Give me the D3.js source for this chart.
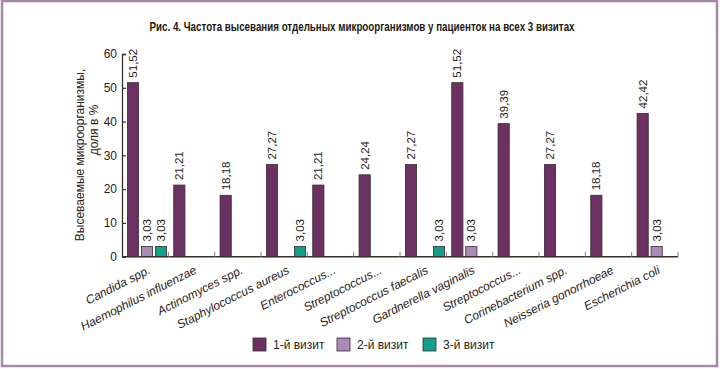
<!DOCTYPE html>
<html><head><meta charset="utf-8">
<script src="https://cdn.jsdelivr.net/npm/d3@7"></script>
<style>
html,body{margin:0;padding:0;background:#fff;}
svg{display:block;font-family:"Liberation Sans",Arial,sans-serif;}
</style></head>
<body><svg id="c" width="720" height="369"></svg>
<script>
const categories = ["Candida spp.","Haemophilus influenzae","Actinomyces spp.","Staphylococcus aureus","Enterococcus...","Streptococcus...","Streptococcus faecalis","Gardnerella vaginalis","Streptococcus...","Corinebacterium spp.","Neisseria gonorrhoeae","Escherichia coli"];
const seriesNames = ["1-й визит","2-й визит","3-й визит"];
const visit1 = [51.52,21.21,18.18,27.27,21.21,24.24,27.27,51.52,39.39,27.27,18.18,42.42];
const visit2 = [3.03,null,null,null,null,null,null,3.03,null,null,null,3.03];
const visit3 = [3.03,null,null,3.03,null,null,3.03,null,null,null,null,null];
const yTicks = [0,10,20,30,40,50,60];
const colors = ["#6b3163","#a98bb8","#10a08d"];
const title = "Рис. 4. Частота высевания отдельных микроорганизмов у пациенток на всех 3 визитах";

const svg = d3.select("#c");
const textColor = "#2a2119";
// frame
svg.append("rect").attr("x",2).attr("y",1).attr("width",715).attr("height",365)
  .attr("fill","none").attr("stroke","#a887a6").attr("stroke-width",2.5);

svg.append("text").attr("x",362).attr("y",31).attr("text-anchor","middle")
  .attr("font-weight","bold").attr("font-size",12).attr("fill","#1e1712")
  .attr("textLength",425).attr("lengthAdjust","spacingAndGlyphs").text(title);

const x0 = d3.scaleBand().domain(d3.range(categories.length)).range([122,678]).padding(0);
const x1 = d3.scaleBand().domain([0,1,2]).range([4,46]).paddingInner(0.2).paddingOuter(0.1);
const y = d3.scaleLinear().domain([0,60]).range([256.7,54]);

const series = [visit1,visit2,visit3];
const g = svg.append("g");
series.forEach((arr,si)=>{
  arr.forEach((v,i)=>{
    if(v==null) return;
    const bx = x0(i)+x1(si), bw = x1.bandwidth();
    g.append("rect").attr("x",bx).attr("y",y(v)).attr("width",bw).attr("height",y(0)-y(v))
      .attr("fill",colors[si]).attr("stroke","#3b2a33").attr("stroke-width",0.8);
    g.append("text").attr("transform",`translate(${bx+bw/2},${y(v)-5}) rotate(-90)`)
      .attr("dy","0.35em").attr("font-size",11.5).attr("fill",textColor)
      .text(String(v.toFixed(2)).replace(".",","));
  });
});

// y axis
const yAxis = d3.axisLeft(y).tickValues(yTicks).tickSize(-4).tickSizeOuter(-4).tickPadding(5);
const ya = svg.append("g").attr("transform","translate(122,0)").call(yAxis);
ya.select(".domain").attr("stroke","#3a3028").attr("stroke-width",1.3);
ya.selectAll(".tick line").attr("stroke","#3a3028").attr("stroke-width",1.2);
ya.selectAll(".tick text").attr("font-size",12).attr("fill",textColor).attr("font-family","Liberation Sans, Arial, sans-serif");

// x axis line
svg.append("line").attr("x1",122).attr("x2",678).attr("y1",y(0)).attr("y2",y(0))
  .attr("stroke","#3a3028").attr("stroke-width",1.5);
// x ticks at band boundaries
const bounds = d3.range(1,categories.length+1).map(i=> i<categories.length ? x0(i) : 678);
svg.selectAll(".xt").data(bounds).enter().append("line")
  .attr("x1",d=>d).attr("x2",d=>d).attr("y1",y(0)).attr("y2",y(0)-5)
  .attr("stroke","#8a7f78").attr("stroke-width",1);

// x labels
svg.selectAll(".xl").data(categories).enter().append("text")
  .attr("transform",(d,i)=>`translate(${x0(i)+x0.bandwidth()/2+6},${y(0)+16}) rotate(-27)`)
  .attr("text-anchor","end").attr("font-style","italic").attr("font-size",12)
  .attr("fill",textColor).text(d=>d);

// y title
svg.append("text").attr("transform","translate(80,155) rotate(-90)").attr("text-anchor","middle")
  .attr("dy","0.35em").attr("font-size",12).attr("fill",textColor).text("Высеваемые микроорганизмы,");
svg.append("text").attr("transform","translate(94,130) rotate(-90)").attr("text-anchor","middle")
  .attr("dy","0.35em").attr("font-size",12).attr("fill",textColor).text("доля в %");

// legend
const legX = [253,337,423];
seriesNames.forEach((n,i)=>{
  svg.append("rect").attr("x",legX[i]).attr("y",338).attr("width",13).attr("height",13)
    .attr("fill",colors[i]).attr("stroke","#3b2a33").attr("stroke-width",0.8);
  svg.append("text").attr("x",legX[i]+20).attr("y",345).attr("dy","0.35em")
    .attr("font-size",12).attr("fill",textColor).text(n);
});
</script></body></html>
